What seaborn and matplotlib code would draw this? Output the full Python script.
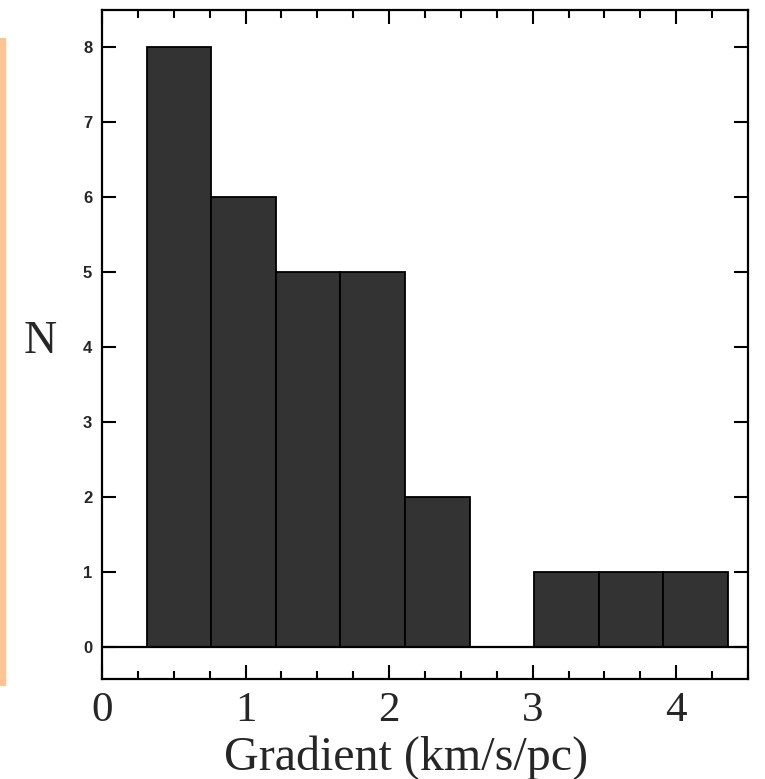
import numpy as np
import pandas as pd
import matplotlib
matplotlib.use("Agg")
import matplotlib.pyplot as plt
from matplotlib.patches import Rectangle
from matplotlib.ticker import MultipleLocator
import seaborn as sns

# Data
bin_edges = [0.31, 0.76, 1.21, 1.66, 2.11, 2.56, 3.01, 3.46, 3.91, 4.36]
counts = [8, 6, 5, 5, 2, 0, 1, 1, 1]
x_ticks = [0, 1, 2, 3, 4]
y_ticks = [0, 1, 2, 3, 4, 5, 6, 7, 8]

centers = [(a + b) / 2 for a, b in zip(bin_edges[:-1], bin_edges[1:])]
df = pd.DataFrame({"gradient": centers, "n": counts})

sns.set_style("ticks")
plt.rcParams["font.family"] = ["Liberation Serif", "DejaVu Serif"]

fig = plt.figure(figsize=(7.65, 7.79), dpi=100)
ax = fig.add_axes([102 / 765, 1 - 679 / 779, 646 / 765, 669 / 779])

sns.histplot(data=df, x="gradient", weights="n", bins=bin_edges, ax=ax,
             color="#333333", alpha=1.0, edgecolor="black", linewidth=1.3)

ax.axhline(0, color="black", lw=1.6, zorder=5)

ax.set_xlim(0, 4.5)
ax.set_ylim(-0.43, 8.49)
ax.set_xticks(x_ticks)
ax.xaxis.set_minor_locator(MultipleLocator(0.25))
ax.set_yticks(y_ticks)

ax.tick_params(axis="both", which="both", direction="in", top=True, right=True,
               width=1.5, color="black")
ax.tick_params(axis="x", which="major", length=10, pad=9, labelsize=31)
ax.tick_params(axis="x", which="minor", length=6)
ax.tick_params(axis="y", which="major", length=10, pad=7)
for lab in ax.get_yticklabels():
    lab.set_fontfamily("Liberation Sans")
    lab.set_fontweight("bold")
    lab.set_fontsize(12)

for sp in ax.spines.values():
    sp.set_linewidth(1.6)
    sp.set_color("black")

ax.set_xlabel("Gradient (km/s/pc)", fontsize=34.6, labelpad=0)
ax.xaxis.set_label_coords(0.47, -0.117)
ax.xaxis.label.set_va("center")
ax.set_ylabel("N", fontsize=33, rotation=0, ha="center", va="center")
ax.yaxis.set_label_coords(-0.096, 0.504)

# thin peach strip at the left edge of the scan
fig.patches.append(Rectangle((0, 1 - 685 / 779), 5 / 765, (685 - 38) / 779,
                             transform=fig.transFigure, color="#FDC596", zorder=0))

fig.savefig("out.png", dpi=100)
